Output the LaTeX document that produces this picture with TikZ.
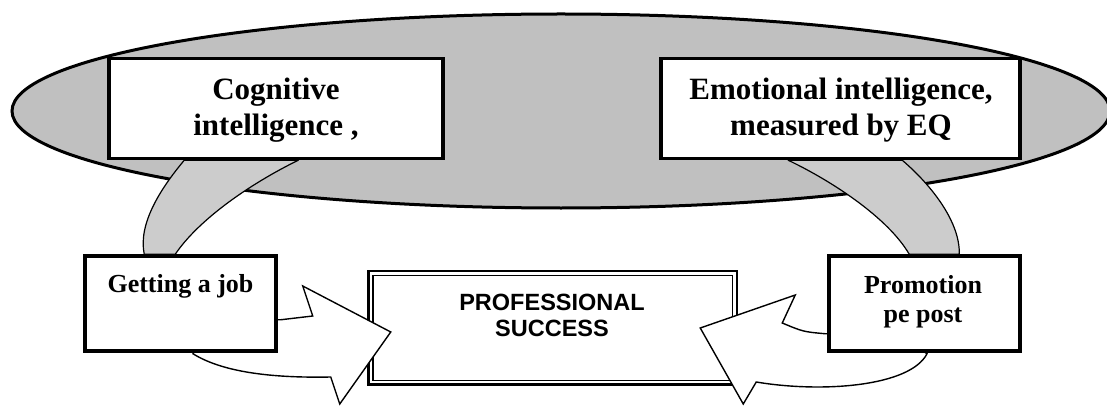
\documentclass[tikz,border=0pt]{standalone}
\usepackage{fontspec}
\setmainfont{Liberation Serif}
\setsansfont{Liberation Sans}
\usetikzlibrary{calc}

\definecolor{ovalgray}{HTML}{C0C0C0}
\definecolor{bandgray}{HTML}{CCCCCC}

\pgfdeclarelayer{background}
\pgfdeclarelayer{mid}
\pgfsetlayers{background,mid,main}

\tikzset{
  bigbox/.style={draw=black, fill=white, line width=3.5pt, inner sep=0pt, minimum height=100pt},
  smallbox/.style={draw=black, fill=white, line width=3.5pt, inner sep=0pt,
    minimum width=191pt, minimum height=95pt},
  band/.style={draw=black, fill=bandgray, line width=1.2pt, line join=round},
  blockarrow/.style={draw=black, fill=white, line width=1.4pt, line join=miter},
  bigtext/.style={font=\fontsize{31}{35.5}\selectfont\bfseries, align=center, inner sep=0pt},
  smalltext/.style={font=\fontsize{26}{29}\selectfont\bfseries, align=center, inner sep=0pt},
  goaltext/.style={font=\fontsize{23.5}{26}\selectfont\sffamily\bfseries, align=center, inner sep=0pt}
}

\begin{document}
\begin{tikzpicture}[x=1pt, y=-1pt]
\useasboundingbox (0,0) rectangle (1107,406);

% boxes (multi-line texts are anchored on their last baseline)
\node[bigbox, minimum width=334pt] (cog) at (276,108.5) {};
\node[bigbox, minimum width=359pt] (emo) at (840.5,108.5) {};
\node[smallbox] (job) at (180.5,303.5) {};
\node[smallbox] (promo) at (924.5,303.5) {};
\node[bigtext, anchor=base] (cogtext) at (276,135.5) {Cognitive\\intelligence ,};
\node[bigtext, anchor=base] (emotext) at (841,135.5) {Emotional intelligence,\\measured by EQ};
\node[smalltext, anchor=base] (jobtext) at (180.5,292) {Getting a job};
\node[smalltext, anchor=base] (promotext) at (923,322) {Promotion\\pe post};

\begin{pgfonlayer}{background}
% the grey oval holding both kinds of intelligence
\draw[line width=3pt, fill=ovalgray] (561,111) ellipse [x radius=549, y radius=97];
% grey bands from the upper boxes down to the outcomes
\path[band]
  ($(cog.south west)+(77,0)$) .. controls +(-26,31) and +(-6,-29) .. ($(job.north west)+(61,0)$)
  -- ($(job.north west)+(92,0)$) .. controls +(23,-34) and +(-50,24.5) .. ($(cog.south west)+(191,0)$)
  -- cycle;
\path[band]
  ($(emo.south west)+(129,0)$) .. controls +(45,21.5) and +(-21,-36) .. ($(promo.north west)+(82,0)$)
  -- ($(promo.north west)+(132,0)$) .. controls +(1,-31) and +(31,26.5) .. ($(emo.south west)+(243,0)$)
  -- cycle;
\end{pgfonlayer}

\begin{pgfonlayer}{mid}
% goal box with its double frame
\node[draw=black, fill=white, line width=2.5pt, minimum width=368.5pt, minimum height=113.5pt,
      inner sep=0pt] (prof) at (552.75,327.75) {};
\draw[line width=1.5pt] ($(prof.north west)+(5.5,5.5)$) rectangle ($(prof.south east)+(-6,-5.5)$);
\node[goaltext, anchor=base] (proftext) at (552,336.7) {PROFESSIONAL\\SUCCESS};

% block arrows into the goal box
\coordinate (tipL) at ($(prof.west)+(23.5,4.25)$);
\coordinate (tipR) at ($(prof.east)+(-38,0.25)$);
\path[blockarrow]
  ($(job.south east)+(-6,-33)$) -- ($(job.south east)+(3,-33)$)
  -- ($(tipL)+(-78,-16)$) -- ($(tipL)+(-88,-46)$) -- (tipL)
  -- ($(tipL)+(-51,72)$) -- ($(tipL)+(-60,45)$)
  .. controls +(-52,1) and +(32,20) .. ($(job.south)+(12.5,1)$)
  -- ($(job.south)+(20,-20)$) -- cycle;
\path[blockarrow]
  ($(promo.south west)+(11,-19)$) -- ($(promo.south west)+(-2,-19)$)
  .. controls +(-22,-2) .. ($(tipR)+(82,-5)$) -- ($(tipR)+(95,-33)$) -- (tipR)
  -- ($(tipR)+(43,76)$) -- ($(tipR)+(56,54)$)
  .. controls +(65,11) and +(-17,33) .. ($(promo.south)+(2.5,1)$)
  -- ($(promo.south)+(-20,-15)$) -- cycle;
\end{pgfonlayer}
\end{tikzpicture}
\end{document}
